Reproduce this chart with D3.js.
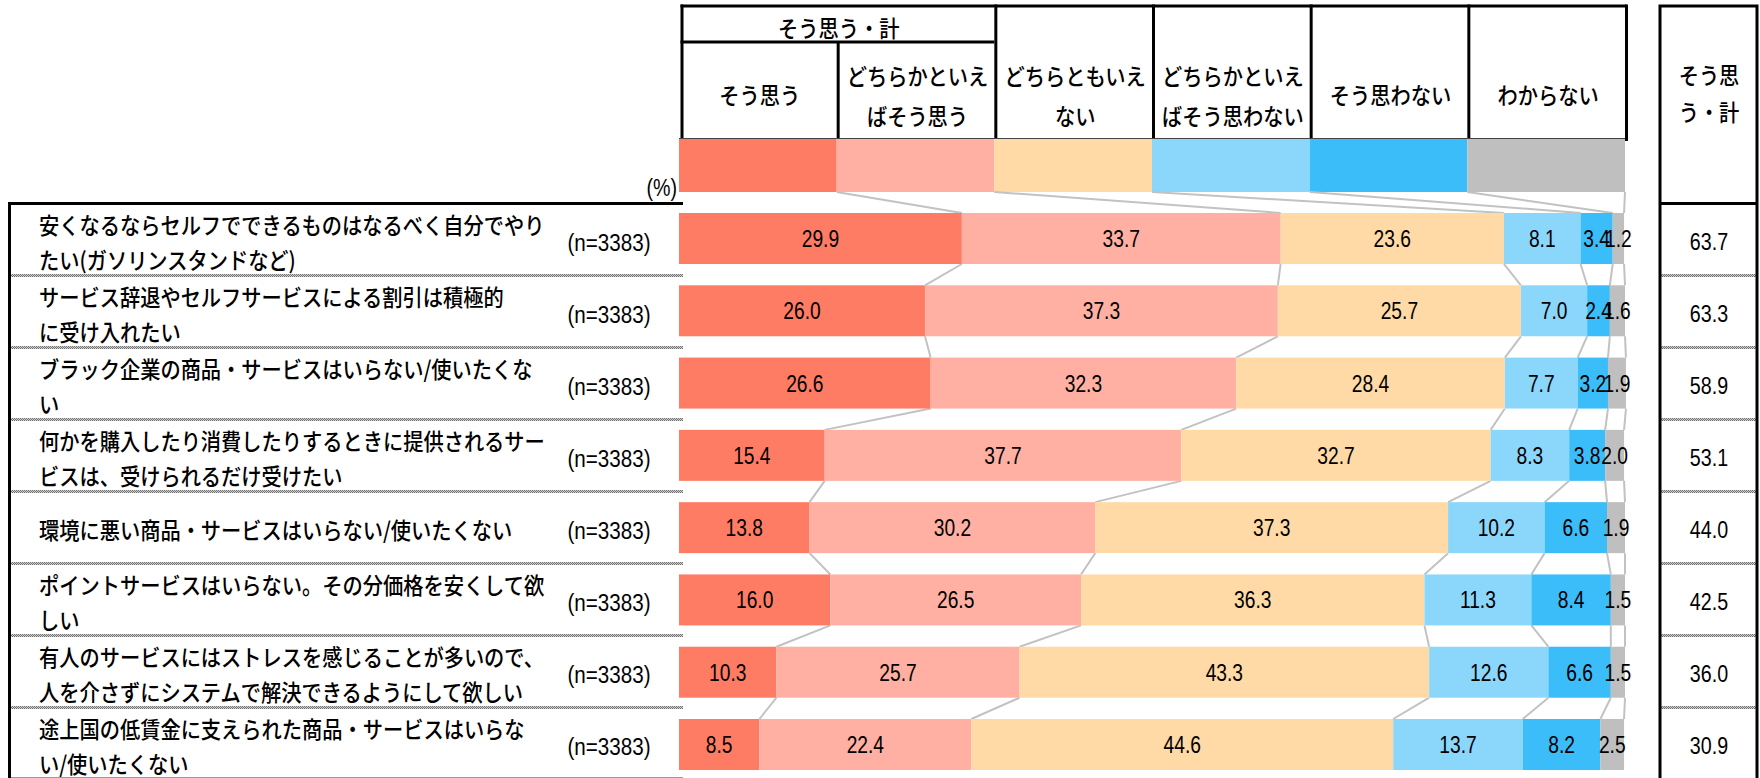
<!DOCTYPE html>
<html lang="ja">
<head>
<meta charset="utf-8">
<script src="https://cdn.jsdelivr.net/npm/d3@7/dist/d3.min.js"></script>
<style>
  html, body { margin: 0; padding: 0; background: #fff; }
  svg { display: block; }
</style>
</head>
<body>
<svg id="chart" width="1760" height="778"></svg>
<script>
// ---- data ----
const statements = [
  ["安くなるならセルフでできるものはなるべく自分でやり", "たい(ガソリンスタンドなど)"],
  ["サービス辞退やセルフサービスによる割引は積極的", "に受け入れたい"],
  ["ブラック企業の商品・サービスはいらない/使いたくな", "い"],
  ["何かを購入したり消費したりするときに提供されるサー", "ビスは、受けられるだけ受けたい"],
  ["環境に悪い商品・サービスはいらない/使いたくない"],
  ["ポイントサービスはいらない。その分価格を安くして欲", "しい"],
  ["有人のサービスにはストレスを感じることが多いので、", "人を介さずにシステムで解決できるようにして欲しい"],
  ["途上国の低賃金に支えられた商品・サービスはいらな", "い/使いたくない"]
];
const sampleSizes = [3383, 3383, 3383, 3383, 3383, 3383, 3383, 3383];

const seriesNames = ["そう思う", "どちらかといえばそう思う", "どちらともいえない",
                     "どちらかといえばそう思わない", "そう思わない", "わからない"];
const seriesHeaderLines = [
  ["そう思う"], ["どちらかといえ", "ばそう思う"], ["どちらともいえ", "ない"],
  ["どちらかといえ", "ばそう思わない"], ["そう思わない"], ["わからない"]
];
const groupHeader = "そう思う・計";
const totalHeaderLines = ["そう思", "う・計"];
const unitLabel = "(%)";

const agree          = [29.9, 26.0, 26.6, 15.4, 13.8, 16.0, 10.3, 8.5];
const somewhatAgree  = [33.7, 37.3, 32.3, 37.7, 30.2, 26.5, 25.7, 22.4];
const neutral        = [23.6, 25.7, 28.4, 32.7, 37.3, 36.3, 43.3, 44.6];
const somewhatDisagr = [8.1, 7.0, 7.7, 8.3, 10.2, 11.3, 12.6, 13.7];
const disagree       = [3.4, 2.4, 3.2, 3.8, 6.6, 8.4, 6.6, 8.2];
const dontKnow       = [1.2, 1.6, 1.9, 2.0, 1.9, 1.5, 1.5, 2.5];
const agreeTotal     = [63.7, 63.3, 58.9, 53.1, 44.0, 42.5, 36.0, 30.9];

const seriesColors = ["#FF7C64", "#FFB0A2", "#FFDAA6", "#8BD7FB", "#3BBDF9", "#BFBFBF"];

// ---- layout ----
const series = [agree, somewhatAgree, neutral, somewhatDisagr, disagree, dontKnow];
const n = statements.length;
const idx = d3.range(n);

const JP = "'Noto Sans CJK JP', 'Noto Sans', sans-serif";
const NUM = "'Liberation Sans', Arial, sans-serif";

const svg = d3.select("#chart");

const x = d3.scaleLinear().domain([0, 100]).range([679, 1625]);
const rowY = d3.scaleBand().domain(idx).range([203.5, 779.5]);
const barY = d3.scaleBand().domain(idx).range([213, 770]).paddingInner(0.2946).paddingOuter(0);
const bw = barY.bandwidth();

// stacked cumulative boundaries per row
const stacked = idx.map(i => {
  let acc = 0;
  return series.map((s, k) => {
    const seg = { row: i, k, value: s[i], x0: acc, x1: acc + s[i] };
    acc += s[i];
    return seg;
  });
});

const defs = svg.append("defs");
const pat = defs.append("pattern").attr("id", "dotted")
  .attr("width", 2).attr("height", 2).attr("patternUnits", "userSpaceOnUse");
pat.append("rect").attr("width", 2).attr("height", 2).attr("fill", "#d4d4d4");
pat.append("rect").attr("width", 1).attr("height", 1).attr("fill", "#6f6f6f");
pat.append("rect").attr("x", 1).attr("y", 1).attr("width", 1).attr("height", 1).attr("fill", "#6f6f6f");

function label(sel, px, py, str, opt) {
  const o = Object.assign({ anchor: "middle", size: 23, family: JP, sx: 0.88, weight: 500 }, opt || {});
  return sel.append("text")
    .attr("transform", `translate(${px},${py}) scale(${o.sx},1)`)
    .attr("text-anchor", o.anchor)
    .attr("font-size", o.size)
    .attr("font-family", o.family)
    .attr("font-weight", o.weight)
    .attr("fill", "#000")
    .text(str);
}

// ---- header of the bar area ----
const head = svg.append("g");
const colEdge = k => x(100 * k / 6);

// legend swatches
head.selectAll("rect.swatch").data(seriesColors).join("rect")
  .attr("class", "swatch")
  .attr("x", (d, k) => colEdge(k))
  .attr("y", 138)
  .attr("width", (d, k) => colEdge(k + 1) - colEdge(k))
  .attr("height", 54)
  .attr("fill", d => d);

// header grid
head.append("line").attr("x1", colEdge(0) + 1.5).attr("x2", colEdge(6) + 1.5)
  .attr("y1", 6).attr("y2", 6).attr("stroke", "#000").attr("stroke-width", 3);
head.append("line").attr("x1", colEdge(0) + 1.5).attr("x2", colEdge(2))
  .attr("y1", 42).attr("y2", 42).attr("stroke", "#000").attr("stroke-width", 3);
head.append("line").attr("x1", colEdge(0)).attr("x2", colEdge(6))
  .attr("y1", 138.5).attr("y2", 138.5).attr("stroke", "#444").attr("stroke-width", 1);
d3.range(7).forEach(k => {
  head.append("line")
    .attr("x1", colEdge(k) + (k === 0 ? 3 : 1.5)).attr("x2", colEdge(k) + (k === 0 ? 3 : 1.5))
    .attr("y1", k === 1 ? 42 : 4.5).attr("y2", k === 6 ? 141 : 138)
    .attr("stroke", "#000").attr("stroke-width", 3);
});

label(head, colEdge(1) + 2, 36.5, groupHeader);
seriesHeaderLines.forEach((lines, k) => {
  const cx = (colEdge(k) + colEdge(k + 1)) / 2 + 2;
  if (lines.length === 1) {
    label(head, cx, 103.5, lines[0]);
  } else {
    label(head, cx, 84.5, lines[0]);
    label(head, cx, 124.5, lines[1]);
  }
});

label(svg, 677, 196, unitLabel, { anchor: "end", size: 24, family: NUM, sx: 0.82, weight: 400 });

// ---- connector lines between consecutive bars ----
const conn = svg.append("g").attr("stroke", "#c2c2c2").attr("stroke-width", 2).attr("fill", "none");
d3.range(1, 7).forEach(k => {
  conn.append("line")
    .attr("x1", colEdge(k)).attr("y1", 192)
    .attr("x2", x(stacked[0][k - 1].x1)).attr("y2", barY(0));
});
idx.slice(0, n - 1).forEach(i => {
  d3.range(6).forEach(k => {
    conn.append("line")
      .attr("x1", x(stacked[i][k].x1)).attr("y1", barY(i) + bw)
      .attr("x2", x(stacked[i + 1][k].x1)).attr("y2", barY(i + 1));
  });
});

// ---- stacked bars ----
const bars = svg.append("g");
bars.selectAll("g.row").data(stacked).join("g").attr("class", "row")
  .selectAll("rect").data(d => d).join("rect")
  .attr("x", d => x(d.x0))
  .attr("y", d => barY(d.row))
  .attr("width", d => x(d.x1) - x(d.x0))
  .attr("height", bw)
  .attr("fill", d => seriesColors[d.k]);

const vals = svg.append("g");
stacked.forEach(row => row.forEach(d => {
  label(vals, x((d.x0 + d.x1) / 2), barY(d.row) + bw / 2 + 8.5, d.value.toFixed(1),
        { size: 24, family: NUM, sx: 0.8, weight: 400 });
}));

// ---- left table: statements and sample sizes ----
const left = svg.append("g");
idx.slice(1).forEach(i => {
  left.append("rect").attr("x", 9).attr("y", rowY(i) - 1.5)
    .attr("width", x(0) + 4 - 9).attr("height", 3).attr("fill", "url(#dotted)");
});
left.append("line").attr("x1", 9).attr("x2", x(0) + 4).attr("y1", 777.5).attr("y2", 777.5)
  .attr("stroke", "#9a9a9a").attr("stroke-width", 1);
left.append("line").attr("x1", 8).attr("x2", x(0) + 4).attr("y1", 203.5).attr("y2", 203.5)
  .attr("stroke", "#000").attr("stroke-width", 3);
left.append("line").attr("x1", 9.5).attr("x2", 9.5).attr("y1", 202).attr("y2", 778)
  .attr("stroke", "#000").attr("stroke-width", 3);

statements.forEach((lines, i) => {
  const c = rowY(i) + rowY.bandwidth() / 2;
  if (lines.length === 1) {
    label(left, 39, c + 11, lines[0], { anchor: "start" });
  } else {
    label(left, 39, c - 6, lines[0], { anchor: "start" });
    label(left, 39, c + 29.5, lines[1], { anchor: "start" });
  }
  label(left, 609, c + 11.5, `(n=${sampleSizes[i]})`, { size: 24, family: NUM, sx: 0.86, weight: 400 });
});

// ---- right table: agree total ----
const right = svg.append("g");
const rx0 = 1660, rx1 = 1757, rcx = (rx0 + rx1) / 2 + 0.5;
idx.slice(1).forEach(i => {
  right.append("rect").attr("x", rx0).attr("y", rowY(i) - 1.5)
    .attr("width", rx1 - rx0).attr("height", 3).attr("fill", "url(#dotted)");
});
right.append("rect").attr("x", rx0).attr("y", 6).attr("width", rx1 - rx0).attr("height", 800)
  .attr("fill", "none").attr("stroke", "#000").attr("stroke-width", 3);
right.append("line").attr("x1", rx0).attr("x2", rx1).attr("y1", 203.5).attr("y2", 203.5)
  .attr("stroke", "#000").attr("stroke-width", 3);
label(right, rcx, 83.5, totalHeaderLines[0]);
label(right, rcx, 120.5, totalHeaderLines[1]);
agreeTotal.forEach((v, i) => {
  const c = rowY(i) + rowY.bandwidth() / 2;
  label(right, rcx, c + 10.5, v.toFixed(1), { size: 24, family: NUM, sx: 0.82, weight: 400 });
});
</script>
</body>
</html>
